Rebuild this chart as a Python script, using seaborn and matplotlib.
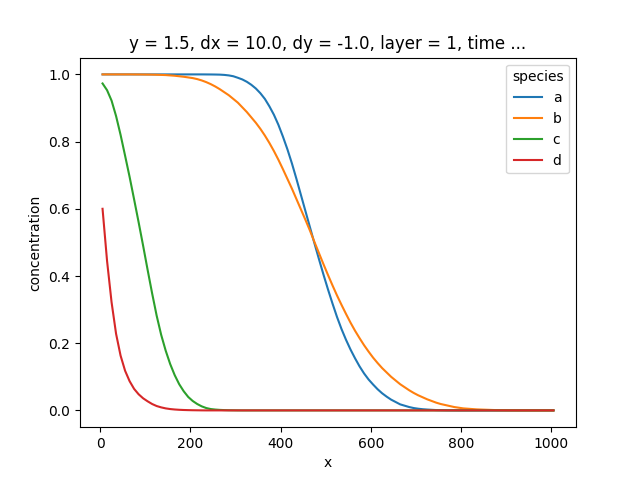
import matplotlib
matplotlib.use("Agg")
import matplotlib.pyplot as plt
import seaborn as sns
import pandas as pd

# x positions (cell centres)
x_values = [5, 15, 25, 35, 45, 55, 65, 75, 85, 95,
            105, 115, 125, 135, 145, 155, 165, 175, 185, 195,
            205, 215, 225, 235, 245, 255, 265, 275, 285, 295,
            305, 315, 325, 335, 345, 355, 365, 375, 385, 395,
            405, 415, 425, 435, 445, 455, 465, 475, 485, 495,
            505, 515, 525, 535, 545, 555, 565, 575, 585, 595,
            605, 615, 625, 635, 645, 655, 665, 675, 685, 695,
            705, 715, 725, 735, 745, 755, 765, 775, 785, 795,
            805, 815, 825, 835, 845, 855, 865, 875, 885, 895,
            905, 915, 925, 935, 945, 955, 965, 975, 985, 995,
            1005]

species_names = ["a", "b", "c", "d"]

conc_a = [1.0, 1.0, 1.0, 1.0, 1.0, 1.0, 1.0, 1.0, 1.0, 1.0,
          1.0, 1.0, 1.0, 1.0, 1.0, 1.0, 1.0, 1.0, 1.0, 1.0,
          1.0, 1.0, 1.0, 0.9999, 0.9998, 0.9996, 0.9993, 0.9985, 0.997, 0.9945,
          0.990, 0.985, 0.978, 0.969, 0.958, 0.944, 0.927, 0.905, 0.880, 0.850,
          0.815, 0.777, 0.735, 0.689, 0.641, 0.593, 0.545, 0.497, 0.450, 0.404,
          0.360, 0.318, 0.278, 0.242, 0.210, 0.181, 0.155, 0.131, 0.110, 0.092,
          0.077, 0.063, 0.051, 0.041, 0.032, 0.025, 0.018, 0.014, 0.010, 0.007,
          0.005, 0.0035, 0.0025, 0.0017, 0.001, 0.0007, 0.0004, 0.0002, 0.0001, 0.0,
          0.0, 0.0, 0.0, 0.0, 0.0, 0.0, 0.0, 0.0, 0.0, 0.0,
          0.0, 0.0, 0.0, 0.0, 0.0, 0.0, 0.0, 0.0, 0.0, 0.0,
          0.0]

conc_b = [1.0, 1.0, 1.0, 1.0, 1.0, 1.0, 1.0, 0.9999, 0.9998, 0.9997,
          0.9995, 0.9993, 0.999, 0.9985, 0.998, 0.997, 0.996, 0.9945, 0.993, 0.991,
          0.989, 0.986, 0.982, 0.977, 0.971, 0.964, 0.956, 0.947, 0.938, 0.927,
          0.916, 0.902, 0.888, 0.872, 0.856, 0.838, 0.818, 0.796, 0.772, 0.746,
          0.718, 0.689, 0.660, 0.629, 0.598, 0.567, 0.535, 0.501, 0.468, 0.435,
          0.403, 0.372, 0.342, 0.314, 0.287, 0.261, 0.237, 0.215, 0.194, 0.175,
          0.157, 0.141, 0.126, 0.113, 0.100, 0.089, 0.078, 0.069, 0.060, 0.052,
          0.045, 0.039, 0.033, 0.028, 0.023, 0.019, 0.016, 0.013, 0.010, 0.008,
          0.006, 0.005, 0.004, 0.003, 0.0025, 0.002, 0.0015, 0.001, 0.0008, 0.0006,
          0.0004, 0.0003, 0.0002, 0.00015, 0.0001, 0.00005, 0.0, 0.0, 0.0, 0.0,
          0.0]

conc_c = [0.973, 0.953, 0.922, 0.876, 0.820, 0.758, 0.695, 0.628, 0.560, 0.490,
          0.418, 0.348, 0.282, 0.225, 0.178, 0.138, 0.105, 0.078, 0.057, 0.040,
          0.028, 0.019, 0.012, 0.007, 0.004, 0.0025, 0.0015, 0.0009, 0.0005, 0.0003,
          0.0001, 0.0, 0.0, 0.0, 0.0, 0.0, 0.0, 0.0, 0.0, 0.0,
          0.0, 0.0, 0.0, 0.0, 0.0, 0.0, 0.0, 0.0, 0.0, 0.0,
          0.0, 0.0, 0.0, 0.0, 0.0, 0.0, 0.0, 0.0, 0.0, 0.0,
          0.0, 0.0, 0.0, 0.0, 0.0, 0.0, 0.0, 0.0, 0.0, 0.0,
          0.0, 0.0, 0.0, 0.0, 0.0, 0.0, 0.0, 0.0, 0.0, 0.0,
          0.0, 0.0, 0.0, 0.0, 0.0, 0.0, 0.0, 0.0, 0.0, 0.0,
          0.0, 0.0, 0.0, 0.0, 0.0, 0.0, 0.0, 0.0, 0.0, 0.0,
          0.0]

conc_d = [0.600, 0.445, 0.322, 0.228, 0.163, 0.118, 0.087, 0.064, 0.048, 0.036,
          0.027, 0.019, 0.013, 0.009, 0.006, 0.004, 0.0027, 0.0018, 0.0012, 0.0008,
          0.0005, 0.0003, 0.0001, 0.0, 0.0, 0.0, 0.0, 0.0, 0.0, 0.0,
          0.0, 0.0, 0.0, 0.0, 0.0, 0.0, 0.0, 0.0, 0.0, 0.0,
          0.0, 0.0, 0.0, 0.0, 0.0, 0.0, 0.0, 0.0, 0.0, 0.0,
          0.0, 0.0, 0.0, 0.0, 0.0, 0.0, 0.0, 0.0, 0.0, 0.0,
          0.0, 0.0, 0.0, 0.0, 0.0, 0.0, 0.0, 0.0, 0.0, 0.0,
          0.0, 0.0, 0.0, 0.0, 0.0, 0.0, 0.0, 0.0, 0.0, 0.0,
          0.0, 0.0, 0.0, 0.0, 0.0, 0.0, 0.0, 0.0, 0.0, 0.0,
          0.0, 0.0, 0.0, 0.0, 0.0, 0.0, 0.0, 0.0, 0.0, 0.0,
          0.0]

title_text = "y = 1.5, dx = 10.0, dy = -1.0, layer = 1, time ..."

series = {"a": conc_a, "b": conc_b, "c": conc_c, "d": conc_d}
frames = []
for name in species_names:
    frames.append(pd.DataFrame({"x": x_values, "concentration": series[name],
                                "species": name}))
df = pd.concat(frames, ignore_index=True)

fig, ax = plt.subplots(figsize=(6.4, 4.8), dpi=100)
sns.lineplot(data=df, x="x", y="concentration", hue="species",
             hue_order=species_names,
             palette=["#1f77b4", "#ff7f0e", "#2ca02c", "#d62728"],
             linewidth=1.5, ax=ax)
ax.set_title(title_text)
ax.set_xlabel("x")
ax.set_ylabel("concentration")
ax.legend(title="species", loc="upper right")
fig.savefig("out.png", dpi=100)
